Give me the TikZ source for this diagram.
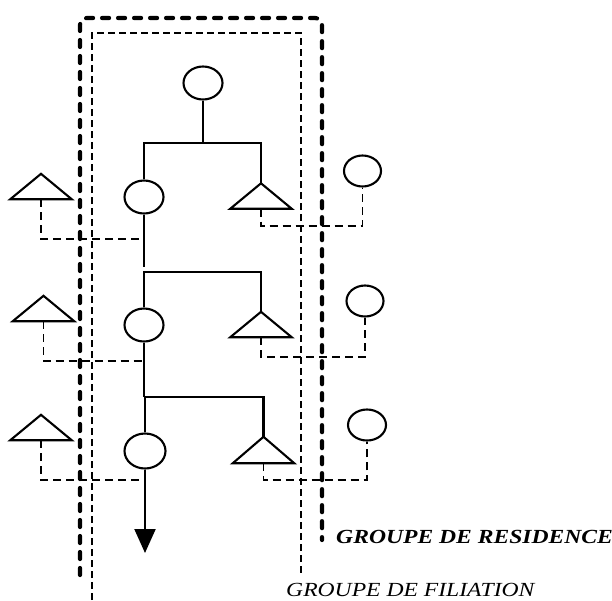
\documentclass[tikz,border=0pt]{standalone}
\usepackage{fontspec}
\setmainfont{Liberation Serif}
\usetikzlibrary{shapes.geometric,arrows.meta}
\begin{document}
\begin{tikzpicture}[x=1pt,y=-1pt,
  solidline/.style={line width=2.1pt},
  person/.style={ellipse, draw, line width=2.1pt, inner sep=0pt, minimum width=39pt, minimum height=33pt},
  tri/.style={inner sep=0pt, minimum width=61pt, minimum height=25pt},
  link/.style={line width=1.9pt, dash pattern=on 8pt off 5pt},
  residence/.style={line width=4.2pt, line cap=round, dash pattern=on 7pt off 9pt, rounded corners=7pt},
  filiation/.style={line width=1.7pt, dash pattern=on 7pt off 4pt},
  lbl/.style={anchor=base west, inner sep=0pt, xscale=1.18, font=\fontsize{20}{24}\selectfont}]
\useasboundingbox (0,0) rectangle (612,600);

% group boxes
\draw[residence] (80,575) -- (80,18) -- (322,18) -- (322,540);
\draw[filiation] (92,600) -- (92,33) -- (301,33) -- (301,575);

% generation 0
\node[person] (c0) at (203,83) {};
\coordinate (j0) at (203,143);

% generation 1
\node[person] (c1) at (144,197) {};
\node[tri] (t1) at (261,196) {};
\node[tri] (L1) at (41,186.5) {};
\node[person, minimum width=37pt, minimum height=31pt] (R1) at (362.5,171) {};
\coordinate (k1) at (144,267);
\coordinate (j1) at (144,272);
\coordinate (m1) at (144,239);

% generation 2
\node[person] (c2) at (144,325) {};
\node[tri] (t2) at (261,324.5) {};
\node[tri] (L2) at (43.5,308.5) {};
\node[person, minimum width=37pt, minimum height=31pt] (R2) at (365,301) {};
\coordinate (j2) at (144,397);
\coordinate (m2) at (144,361);

% generation 3
\node[person, minimum width=41pt, minimum height=35pt] (c3) at (145,451) {};
\node[tri, minimum height=26pt] (t3) at (263.5,450) {};
\node[tri] (L3) at (41,427.5) {};
\node[person, minimum width=38pt, minimum height=31pt] (R3) at (367,425) {};
\coordinate (m3) at (145,480);
\coordinate (e3) at (145,553);

% triangles
\foreach \t in {t1,L1,t2,L2,t3,L3}
  \draw[solidline, line join=miter] (\t.north) -- (\t.south west) -- (\t.south east) -- cycle;

% descent lines
\draw[solidline] (c0.south) -- (j0);
\draw[solidline] (c1.north) |- (j0) -| (t1.north);
\draw[solidline] (c1.south) -- (k1);
\draw[solidline] (c2.north) -- (j1) -| (t2.north);
\draw[solidline] (c2.south) -- (j2);
\draw[solidline] (c3.north) -- (c3.north |- j2) -| (t3.north);
\draw[solidline, -{Triangle[length=24pt,width=21pt]}] (c3.south) -- (e3);

% alliance links
\draw[link] (L1.south) |- (m1);
\draw[link] (t1.south) -- (t1.south |- 0,226) -| (R1.south);
\draw[link] (L2.south) |- (m2);
\draw[link] (t2.south) -- (t2.south |- 0,357) -| (R2.south);
\draw[link] (L3.south) |- (m3);
\draw[link] (t3.south) -- (t3.south |- 0,480) -| (R3.south);

% labels
\node[lbl] (res) at (336,543) {\textbf{\textit{GROUPE DE RESIDENCE}}};
\node[lbl] (fil) at (286,596) {\textit{GROUPE DE FILIATION}};
\end{tikzpicture}
\end{document}
